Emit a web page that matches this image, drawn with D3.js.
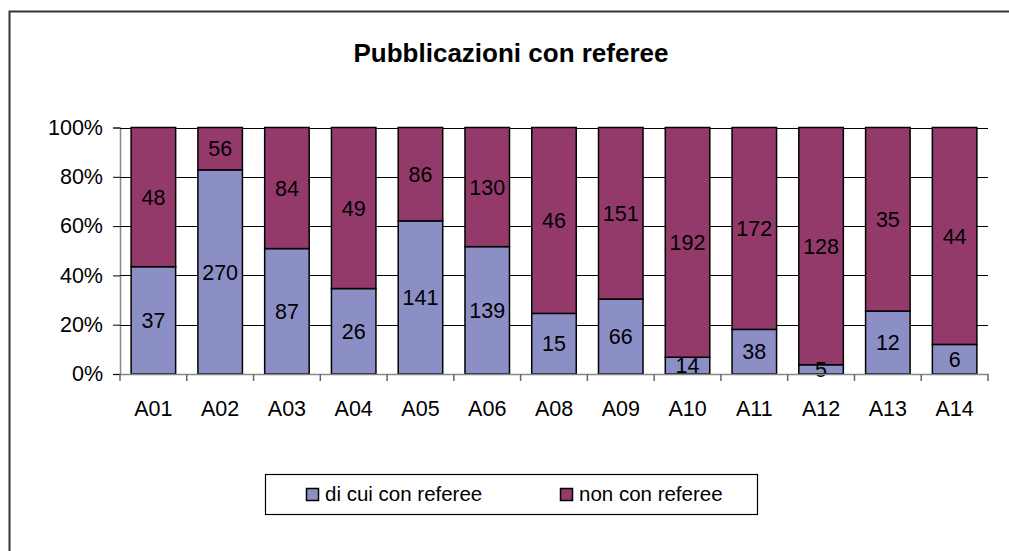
<!DOCTYPE html>
<html>
<head>
<meta charset="utf-8">
<script src="https://cdn.jsdelivr.net/npm/d3@7"></script>
<style>
  html, body { margin: 0; padding: 0; background: #fff; overflow: hidden; }
  svg { display: block; font-family: Arial, "Liberation Sans", sans-serif; }
</style>
</head>
<body>
<svg id="chart" width="1009" height="551"></svg>
<script>
// Publications per area: with referee vs. without referee
const categories = ["A01","A02","A03","A04","A05","A06","A08","A09","A10","A11","A12","A13","A14"];
const conReferee = [37, 270, 87, 26, 141, 139, 15, 66, 14, 38, 5, 12, 6];
const nonReferee = [48, 56, 84, 49, 86, 130, 46, 151, 192, 172, 128, 35, 44];
const seriesNames = ["di cui con referee", "non con referee"];
const seriesColors = ["#8c8ec6", "#943a6b"];
const yTicks = [0, 0.2, 0.4, 0.6, 0.8, 1.0];
const title = "Pubblicazioni con referee";

const svg = d3.select("#chart");

// outer chart frame (left and top edges only are in view)
svg.append("path")
  .attr("d", "M9.5,560 V11.5 H1020")
  .attr("fill", "none").attr("stroke", "#333").attr("stroke-width", 2);

svg.append("text")
  .attr("x", 511).attr("y", 61.5)
  .attr("text-anchor", "middle")
  .attr("font-weight", "bold")
  .attr("font-size", 26)
  .text(title);

const plot = { left: 120, right: 988, top: 127.5, bottom: 374 };

const x = d3.scaleBand()
  .domain(categories)
  .range([plot.left, plot.right])
  .paddingInner(1 / 3)
  .paddingOuter(1 / 6);

const y = d3.scaleLinear().domain([0, 1]).range([plot.bottom, plot.top]);

// y axis with ticks
const yAxis = d3.axisLeft(y)
  .tickValues(yTicks)
  .tickFormat(d3.format(".0%"))
  .tickSize(7)
  .tickPadding(10);

const gy = svg.append("g").attr("transform", `translate(${plot.left},0)`).call(yAxis);
gy.select(".domain").attr("stroke", "#888").attr("stroke-width", 1.5);
gy.selectAll(".tick line").attr("stroke", "#000");
gy.selectAll(".tick text")
  .attr("font-size", 21.5).attr("fill", "#000")
  .attr("font-family", "Arial, 'Liberation Sans', sans-serif");

// horizontal gridlines
svg.append("g").selectAll("line")
  .data(yTicks.filter(d => d > 0))
  .join("line")
  .attr("x1", plot.left).attr("x2", plot.right)
  .attr("y1", d => Math.round(y(d)) + 0.5).attr("y2", d => Math.round(y(d)) + 0.5)
  .attr("stroke", "#000").attr("stroke-width", 1);

// stacked 100% bars
const rows = categories.map((c, i) => ({ cat: c, con: conReferee[i], non: nonReferee[i] }));
const stack = d3.stack().keys(["con", "non"]).offset(d3.stackOffsetExpand);
const layers = stack(rows);

const g = svg.append("g");
layers.forEach((layer, li) => {
  g.append("g").selectAll("rect")
    .data(layer)
    .join("rect")
    .attr("x", d => x(d.data.cat))
    .attr("width", x.bandwidth())
    .attr("y", d => y(d[1]))
    .attr("height", d => y(d[0]) - y(d[1]))
    .attr("fill", seriesColors[li])
    .attr("stroke", "#000")
    .attr("stroke-width", 1.5);
});

// value labels centred in each segment
layers.forEach((layer) => {
  g.append("g").selectAll("text")
    .data(layer)
    .join("text")
    .attr("x", d => x(d.data.cat) + x.bandwidth() / 2)
    .attr("y", d => (y(d[0]) + y(d[1])) / 2)
    .attr("dy", "0.36em")
    .attr("text-anchor", "middle")
    .attr("font-size", 21.5)
    .attr("fill", "#000")
    .text(d => d.data[layer.key]);
});

// x axis
const xAxis = d3.axisBottom(x).tickSize(0).tickPadding(27);
const gx = svg.append("g").attr("transform", `translate(0,${plot.bottom})`).call(xAxis);
gx.select(".domain").attr("stroke", "#888").attr("stroke-width", 1.5);
gx.selectAll(".tick text")
  .attr("font-size", 21.5).attr("fill", "#000")
  .attr("font-family", "Arial, 'Liberation Sans', sans-serif");

// category boundary ticks
const bounds = categories.map(c => x(c) - x.step() * x.paddingInner() / 2).concat([plot.right]);
gx.append("g").selectAll("line")
  .data(bounds)
  .join("line")
  .attr("x1", d => d).attr("x2", d => d)
  .attr("y1", 0).attr("y2", 7)
  .attr("stroke", "#666").attr("stroke-width", 1.5);

// legend
const legend = svg.append("g");
legend.append("rect")
  .attr("x", 265.5).attr("y", 474.5)
  .attr("width", 492).attr("height", 40)
  .attr("fill", "#fff").attr("stroke", "#000").attr("stroke-width", 1.2);

const legendX = [306, 560];
seriesNames.forEach((name, i) => {
  legend.append("rect")
    .attr("x", legendX[i] + 0.5).attr("y", 488.5)
    .attr("width", 12).attr("height", 12)
    .attr("fill", seriesColors[i]).attr("stroke", "#000").attr("stroke-width", 1.5);
  legend.append("text")
    .attr("x", legendX[i] + 19).attr("y", 501)
    .attr("font-size", 20.5).attr("fill", "#000")
    .text(name);
});
</script>
</body>
</html>
